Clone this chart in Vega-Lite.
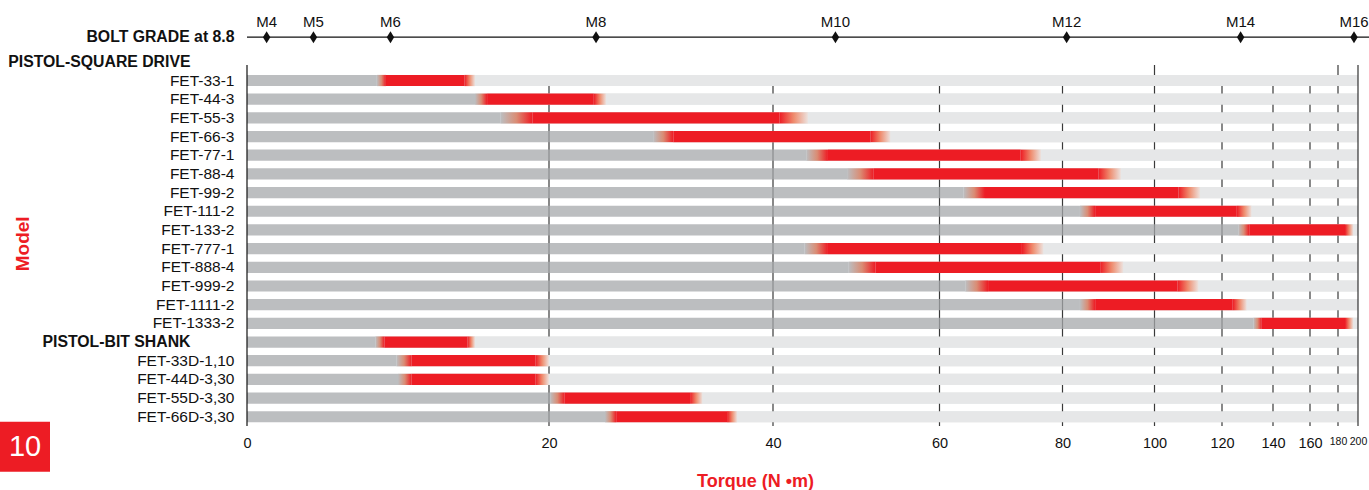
{
  "$schema": "https://vega.github.io/schema/vega-lite/v6.json",
  "width": 1111,
  "height": 392.3,
  "autosize": {"type": "none"},
  "padding": {"left": 247, "top": 33.8, "right": 11, "bottom": 63.9},
  "background": "white",
  "datasets": {
    "rows": [
      {"model": "FET-33-1", "grayEnd": 8.6, "redStart": 9.2, "redEnd": 14.4, "fadeEnd": 15.1},
      {"model": "FET-44-3", "grayEnd": 15.1, "redStart": 15.9, "redEnd": 24.0, "fadeEnd": 25.1},
      {"model": "FET-55-3", "grayEnd": 16.8, "redStart": 18.9, "redEnd": 40.8, "fadeEnd": 44.2},
      {"model": "FET-66-3", "grayEnd": 29.3, "redStart": 31.1, "redEnd": 51.7, "fadeEnd": 54.1},
      {"model": "FET-77-1", "grayEnd": 44.0, "redStart": 46.6, "redEnd": 73.2, "fadeEnd": 76.5},
      {"model": "FET-88-4", "grayEnd": 48.9, "redStart": 52.1, "redEnd": 87.8, "fadeEnd": 92.7},
      {"model": "FET-99-2", "grayEnd": 63.9, "redStart": 67.4, "redEnd": 107.1, "fadeEnd": 113.5},
      {"model": "FET-111-2", "grayEnd": 83.8, "redStart": 87.1, "redEnd": 125.8, "fadeEnd": 131.6},
      {"model": "FET-133-2", "grayEnd": 126.4, "redStart": 130.7, "redEnd": 187, "fadeEnd": 195.3},
      {"model": "FET-777-1", "grayEnd": 43.8, "redStart": 46.6, "redEnd": 73.4, "fadeEnd": 76.9},
      {"model": "FET-888-4", "grayEnd": 49.1, "redStart": 52.3, "redEnd": 88.2, "fadeEnd": 93.2},
      {"model": "FET-999-2", "grayEnd": 64.2, "redStart": 67.9, "redEnd": 106.8, "fadeEnd": 113.0},
      {"model": "FET-1111-2", "grayEnd": 83.8, "redStart": 87.1, "redEnd": 124.2, "fadeEnd": 129.7},
      {"model": "FET-1333-2", "grayEnd": 132.3, "redStart": 135.6, "redEnd": 187, "fadeEnd": 195.3},
      {"model": "PISTOL-BIT SHANK", "grayEnd": 8.5, "redStart": 9.1, "redEnd": 14.6, "fadeEnd": 15.1},
      {"model": "FET-33D-1,10", "grayEnd": 9.9, "redStart": 10.9, "redEnd": 19.1, "fadeEnd": 20.0},
      {"model": "FET-44D-3,30", "grayEnd": 10.0, "redStart": 10.9, "redEnd": 19.1, "fadeEnd": 20.0},
      {"model": "FET-55D-3,30", "grayEnd": 20.1, "redStart": 21.4, "redEnd": 32.6, "fadeEnd": 33.7},
      {"model": "FET-66D-3,30", "grayEnd": 25.0, "redStart": 26.0, "redEnd": 35.9, "fadeEnd": 36.8}
    ],
    "grades": [
      {"model": "BOLT GRADE at 8.8", "grade": "M4", "torque": 1.3},
      {"model": "BOLT GRADE at 8.8", "grade": "M5", "torque": 4.4},
      {"model": "BOLT GRADE at 8.8", "grade": "M6", "torque": 9.5},
      {"model": "BOLT GRADE at 8.8", "grade": "M8", "torque": 24.2},
      {"model": "BOLT GRADE at 8.8", "grade": "M10", "torque": 47.5},
      {"model": "BOLT GRADE at 8.8", "grade": "M12", "torque": 80.9},
      {"model": "BOLT GRADE at 8.8", "grade": "M14", "torque": 127.3},
      {"model": "BOLT GRADE at 8.8", "grade": "M16", "torque": 196}
    ],
    "gridShort": [{"tick": 20}, {"tick": 40}, {"tick": 60}, {"tick": 80}, {"tick": 120}, {"tick": 140}, {"tick": 160}],
    "gridLong": [{"tick": 100}, {"tick": 180}],
    "scale": [{"model": "BOLT GRADE at 8.8", "from": 0, "to": 200}]
  },
  "layer": [
    {
      "data": {"name": "rows"},
      "mark": {"type": "bar", "color": "#E6E7E8"},
      "encoding": {
        "y": {
          "field": "model", "type": "nominal",
          "scale": {
            "domain": ["BOLT GRADE at 8.8", "PISTOL-SQUARE DRIVE", "FET-33-1", "FET-44-3", "FET-55-3", "FET-66-3", "FET-77-1", "FET-88-4", "FET-99-2", "FET-111-2", "FET-133-2", "FET-777-1", "FET-888-4", "FET-999-2", "FET-1111-2", "FET-1333-2", "PISTOL-BIT SHANK", "FET-33D-1,10", "FET-44D-3,30", "FET-55D-3,30", "FET-66D-3,30"],
            "paddingInner": 0.4, "paddingOuter": 0.2
          },
          "axis": {
            "title": "Model",
            "domain": false, "ticks": false, "grid": false,
            "labelFont": "Liberation Sans",
            "labelColor": "#111111",
            "labelLimit": 0,
            "labelPadding": {"condition": {"test": "indexof(datum.value, 'PISTOL') === 0", "value": 57}, "value": 13},
            "labelOffset": {"condition": {"test": "indexof(datum.value, 'BOLT') === 0", "value": -6}, "value": 0},
            "labelFontSize": {"condition": {"test": "indexof(datum.value, 'PISTOL') === 0 || indexof(datum.value, 'BOLT') === 0", "value": 15.8}, "value": 15.5},
            "labelFontWeight": {"condition": {"test": "indexof(datum.value, 'PISTOL') === 0 || indexof(datum.value, 'BOLT') === 0", "value": "bold"}, "value": "normal"},
            "titleColor": "#ED1C24", "titleFont": "Liberation Sans", "titleFontSize": 19, "titleFontWeight": "bold",
            "titleAngle": -90, "titleX": -225, "titleY": 209.5, "titleAlign": "center", "titleBaseline": "middle"
          }
        },
        "x": {
          "field": "grayEnd", "type": "quantitative", "stack": null,
          "scale": {"domain": [0, 20, 40, 60, 80, 100, 120, 140, 160, 180, 200], "range": [0, 302, 526, 692.5, 815.5, 907.5, 975, 1026, 1063, 1091, 1111], "nice": false, "zero": false},
          "axis": {
            "title": "Torque (N •m)",
            "values": [0, 20, 40, 60, 80, 100, 120, 140, 160, 180, 200],
            "domain": false, "ticks": false, "grid": false,
            "labelPadding": 10, "labelOverlap": false, "labelFlush": false,
            "labelFont": "Liberation Sans", "labelColor": "#111111",
            "labelFontSize": {"condition": {"test": "datum.value >= 180", "value": 10.5}, "value": 14.5},
            "titleColor": "#ED1C24", "titleFont": "Liberation Sans", "titleFontSize": 18, "titleFontWeight": "bold",
            "titleX": 508, "titleY": 60, "titleAlign": "center", "titleBaseline": "alphabetic"
          }
        },
        "x2": {"value": "width"}
      }
    },
    {
      "data": {"name": "gridShort"},
      "mark": {"type": "rule", "color": "#3a3a3a", "strokeWidth": 1.2, "yOffset": 46.7, "y2Offset": -9.4},
      "encoding": {
        "x": {"field": "tick", "type": "quantitative"}
      }
    },
    {
      "data": {"name": "gridLong"},
      "mark": {"type": "rule", "color": "#3a3a3a", "strokeWidth": 1.2, "yOffset": 31.2, "y2Offset": 4},
      "encoding": {
        "x": {"field": "tick", "type": "quantitative"}
      }
    },
    {
      "data": {"name": "rows"},
      "mark": {"type": "bar", "color": "#E6E7E8"},
      "encoding": {
        "y": {"field": "model", "type": "nominal"},
        "x": {"field": "grayEnd", "type": "quantitative", "stack": null},
        "x2": {"value": "width"}
      }
    },
    {
      "data": {"name": "rows"},
      "mark": {"type": "bar", "color": "#A6A8AB", "opacity": 0.75},
      "encoding": {
        "y": {"field": "model", "type": "nominal"},
        "x": {"field": "grayEnd", "type": "quantitative", "stack": null}
      }
    },
    {
      "data": {"name": "rows"},
      "mark": {"type": "bar", "color": {"gradient": "linear", "x1": 0, "x2": 1, "y1": 0, "y2": 0, "stops": [{"offset": 0, "color": "#BCBEC0"}, {"offset": 0.5, "color": "#DA8C74"}, {"offset": 1, "color": "#ED1C24"}]}},
      "encoding": {
        "y": {"field": "model", "type": "nominal"},
        "x": {"field": "grayEnd", "type": "quantitative"},
        "x2": {"field": "redStart"}
      }
    },
    {
      "data": {"name": "rows"},
      "mark": {"type": "bar", "color": "#ED1C24"},
      "encoding": {
        "y": {"field": "model", "type": "nominal"},
        "x": {"field": "redStart", "type": "quantitative"},
        "x2": {"field": "redEnd"}
      }
    },
    {
      "data": {"name": "rows"},
      "mark": {"type": "bar", "color": {"gradient": "linear", "x1": 0, "x2": 1, "y1": 0, "y2": 0, "stops": [{"offset": 0, "color": "#ED1C24"}, {"offset": 0.5, "color": "#EF8C6E"}, {"offset": 1, "color": "#ECE2DE"}]}},
      "encoding": {
        "y": {"field": "model", "type": "nominal"},
        "x": {"field": "redEnd", "type": "quantitative"},
        "x2": {"field": "fadeEnd"}
      }
    },
    {
      "data": {"values": [{"edge": 0}]},
      "mark": {"type": "rule", "color": "#111111", "strokeWidth": 1.2, "yOffset": 31.2, "y2Offset": 2},
      "encoding": {
        "x": {"field": "edge", "type": "quantitative"}
      }
    },
    {
      "data": {"values": [{"edge": 200}]},
      "mark": {"type": "rule", "color": "#333333", "strokeWidth": 1.2, "yOffset": 31.2, "y2Offset": 6},
      "encoding": {
        "x": {"field": "edge", "type": "quantitative"}
      }
    },
    {
      "data": {"name": "scale"},
      "mark": {"type": "rule", "color": "#111111", "strokeWidth": 1.2, "yOffset": -6, "x2Offset": 12},
      "encoding": {
        "x": {"field": "from", "type": "quantitative"},
        "x2": {"field": "to"},
        "y": {"field": "model", "type": "nominal"}
      }
    },
    {
      "data": {"name": "grades"},
      "mark": {"type": "point", "shape": "M0,-1L0.62,0L0,1L-0.62,0Z", "filled": true, "color": "#111111", "opacity": 1, "size": 144, "yOffset": -6},
      "encoding": {
        "x": {"field": "torque", "type": "quantitative"},
        "y": {"field": "model", "type": "nominal"}
      }
    },
    {
      "data": {"name": "grades"},
      "mark": {"type": "text", "font": "Liberation Sans", "fontSize": 15, "color": "#111111", "yOffset": -6, "dy": -15, "baseline": "middle", "align": "center"},
      "encoding": {
        "x": {"field": "torque", "type": "quantitative"},
        "y": {"field": "model", "type": "nominal"},
        "text": {"field": "grade"}
      }
    },
    {
      "data": {"values": [{"page": "10"}]},
      "mark": {"type": "square", "opacity": 0},
      "encoding": {
        "fill": {
          "field": "page", "type": "nominal",
          "scale": {"range": ["#ED1C24"]},
          "legend": {
            "orient": "none", "legendX": -247, "legendY": 388, "title": null, "padding": 0,
            "symbolType": "square", "symbolSize": 2500, "symbolOpacity": 1, "symbolStrokeWidth": 0,
            "symbolFillColor": "#ED1C24",
            "labelColor": "white", "labelFont": "Liberation Sans", "labelFontSize": 29,
            "labelAlign": "center", "labelBaseline": "middle", "labelOffset": -25, "labelLimit": 0
          }
        }
      }
    }
  ],
  "config": {
    "font": "Liberation Sans",
    "view": {"stroke": null}
  }
}
